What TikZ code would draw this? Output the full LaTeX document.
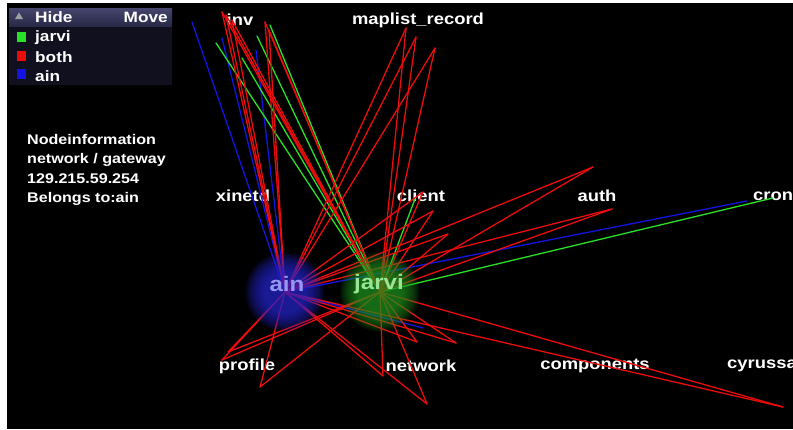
\documentclass[tikz,border=0pt]{standalone}
\usepackage{fontspec}
\setmainfont{Liberation Sans}[FakeStretch=1.15]

\definecolor{bothc}{RGB}{235,12,12}
\definecolor{jarvic}{RGB}{40,225,40}
\definecolor{ainc}{RGB}{20,20,225}
\definecolor{legbody}{RGB}{16,16,30}
\definecolor{leghtop}{RGB}{70,70,110}
\definecolor{leghbot}{RGB}{40,40,72}
\definecolor{ainlab}{RGB}{150,150,245}
\definecolor{jarvilab}{RGB}{150,230,150}
\definecolor{ainball}{RGB}{40,40,205}
\definecolor{jarviball}{RGB}{35,150,35}

\tikzset{
  edge/.style={line width=1.3pt, line cap=round},
  bothedge/.style={edge, draw=bothc},
  jarviedge/.style={edge, draw=jarvic},
  ainedge/.style={edge, draw=ainc},
  filelabel/.style={text=white, font=\bfseries\fontsize{16}{18}\selectfont, inner sep=0pt},
  leglabel/.style={text=white, font=\bfseries\fontsize{15}{17}\selectfont, inner sep=0pt, anchor=west},
  infolabel/.style={text=white, font=\bfseries\fontsize{14}{19.5}\selectfont, inner sep=0pt, align=left},
  hostlabel/.style={font=\bfseries\fontsize{21}{23}\selectfont, inner sep=0pt},
  glowlayer/.style={fill opacity=0.065, draw=none},
}

\begin{document}
\begin{tikzpicture}[x=1pt,y=-1pt]
% canvas
\fill[white] (0,0) rectangle (793,429);
\fill[black] (7,3) rectangle (793,429);
\useasboundingbox (0,0) rectangle (793,429);

% legend panel
\fill[legbody] (9,8) rectangle (172,85);
\shade[top color=leghtop, bottom color=leghbot] (9,8) rectangle (172,26);
\fill[gray!75] (15,19) -- (19,12.5) -- (23,19) -- cycle;
\node[leglabel] (hide) at (35,17) {Hide};
\node[leglabel, anchor=east] (move) at (168,17) {Move};
\fill[jarvic] (17,32) rectangle (26,42);
\fill[bothc] (17,51) rectangle (26,61);
\fill[ainc] (17,69) rectangle (26,79);
\node[leglabel] (legj) at (35,38) {jarvi};
\node[leglabel] (legb) at (35,57) {both};
\node[leglabel] (lega) at (35,76) {ain};

% node information
\node[infolabel, anchor=north west] (info) at (27,134)
  {Nodeinformation\\network / gateway\\129.215.59.254\\Belongs to:ain};

% file labels
\node[filelabel] (inv) at (240,20) {inv};
\node[filelabel] (maplist) at (418,20) {maplist\_record};
\node[filelabel] (xinetd) at (243,196) {xinetd};
\node[filelabel] (client) at (421,196) {client};
\node[filelabel] (auth) at (597,196) {auth};
\node[filelabel, anchor=west] (cron) at (753,196) {cron};
\node[filelabel] (profile) at (247,366) {profile};
\node[filelabel] (network) at (421,366) {network};
\node[filelabel] (components) at (595,366) {components};
\node[filelabel, anchor=west] (cyrus) at (727,366) {cyrussa};

% host centres
\coordinate (ain) at (285,292);
\coordinate (jarvi) at (380,292);

% endpoints shared by both hosts
\coordinate (r1) at (222,12);
\coordinate (r2) at (226,15);
\coordinate (r3) at (232,20);
\coordinate (r4) at (265,22);
\coordinate (r5) at (269,30);
\coordinate (r6) at (406,28);
\coordinate (r7) at (416,37);
\coordinate (r8) at (435,48);
\coordinate (r9) at (423,192);
\coordinate (r10) at (433,211);
\coordinate (r11) at (448,234);
\coordinate (r12) at (593,167);
\coordinate (r13) at (612,209);
\coordinate (r14) at (783,407);
\coordinate (r15) at (228,352);
\coordinate (r16) at (260,387);
\coordinate (r17) at (383,376);
\coordinate (r18) at (427,404);
\coordinate (r19) at (417,342);
\coordinate (r20) at (456,343);
\coordinate (r21) at (222,360);

% endpoints of jarvi only
\coordinate (g1) at (216,43);
\coordinate (g2) at (242,58);
\coordinate (g3) at (257,36);
\coordinate (g4) at (270,25);
\coordinate (g5) at (415,199);
\coordinate (g6) at (773,198);

% endpoints of ain only
\coordinate (b1) at (192,22);
\coordinate (b2) at (222,38);
\coordinate (b3) at (256,50);
\coordinate (b4) at (747,201);
\coordinate (b5) at (423,328);

% connectors
\foreach \e in {b1,b2,b3,b4,b5} \draw[ainedge] (\e) -- (ain);
\foreach \e in {g1,g2,g3,g4,g5,g6} \draw[jarviedge] (\e) -- (jarvi);
\foreach \e in {r1,r2,r3,r4,r5,r6,r7,r8,r9,r10,r11,r12,r13,r14,r15,r16,r17,r18,r19,r20,r21} {
  \draw[bothedge] (\e) -- (ain);
  \draw[bothedge] (\e) -- (jarvi);
}

% host spheres: stacked translucent discs give a soft glowing edge
\foreach \k in {0,...,19} {
  \fill[glowlayer, ainball] (ain) circle[radius=40-\k];
  \fill[glowlayer, jarviball] (jarvi) circle[radius=40-\k];
}
\node[hostlabel, text=ainlab] (ainname) at (287,284) {ain};
\node[hostlabel, text=jarvilab] (jarviname) at (379,284) {jarvi};
\end{tikzpicture}
\end{document}
